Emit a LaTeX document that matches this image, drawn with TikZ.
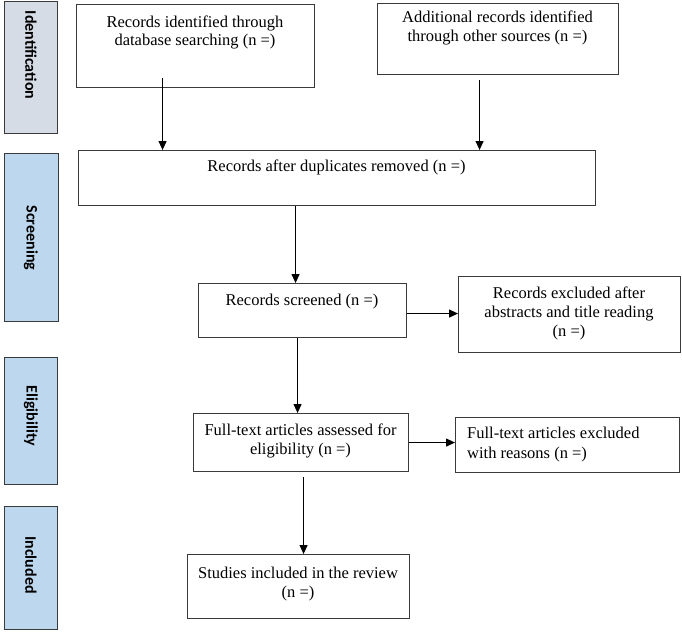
\documentclass[tikz,border=0pt]{standalone}
\usepackage{fontspec}
\setmainfont{Liberation Serif}
\newfontfamily\sidefont{Carlito}
\usetikzlibrary{arrows.meta}
\definecolor{idfill}{HTML}{D6DCE5}
\definecolor{phfill}{HTML}{BDD7EE}
\definecolor{edge}{HTML}{3A3A3A}
\begin{document}
\begin{tikzpicture}[x=1pt,y=-1pt,
  box/.style={draw=edge,line width=1.1pt,inner sep=0pt,anchor=north west},
  phase/.style={draw=edge,line width=1.4pt,inner sep=0pt,anchor=north west},
  phasetext/.style={font=\sidefont\bfseries\fontsize{16}{18}\selectfont,rotate=-90,inner sep=0pt},
  txt/.style={font=\fontsize{16.5}{18.8}\selectfont,align=center,inner sep=0pt,anchor=base},
  ltxt/.style={font=\fontsize{16.5}{19.5}\selectfont,align=left,inner sep=0pt,anchor=base west},
  arr/.style={line width=1.2pt,-{Triangle[length=9pt,width=8pt]}}]
\useasboundingbox (0,0) rectangle (682,634);
% phase bars
\node[phase,fill=idfill,minimum width=53pt,minimum height=132pt] (p1) at (4,1) {};
\node[phase,fill=phfill,minimum width=54pt,minimum height=168pt] (p2) at (4,153) {};
\node[phase,fill=phfill,minimum width=53pt,minimum height=127pt] (p3) at (4,357) {};
\node[phase,fill=phfill,minimum width=53pt,minimum height=123pt] (p4) at (4,506) {};
\node[phasetext] (p1t) at (31,55) {Identification};
\node[phasetext] (p2t) at (31,238) {Screening};
\node[phasetext] (p3t) at (31,416) {Eligibility};
\node[phasetext] (p4t) at (31,565) {Included};
% boxes
\node[box,minimum width=238pt,minimum height=83pt] (b1) at (76,4) {};
\node[box,minimum width=241pt,minimum height=71pt] (b2) at (377,3) {};
\node[box,minimum width=517pt,minimum height=55pt] (b3) at (78,150) {};
\node[box,minimum width=208pt,minimum height=54pt] (b4) at (198,283) {};
\node[box,minimum width=222pt,minimum height=76pt] (b5) at (458,276) {};
\node[box,minimum width=215pt,minimum height=58pt] (b6) at (193,413) {};
\node[box,minimum width=224pt,minimum height=55pt] (b7) at (455,417) {};
\node[box,minimum width=222pt,minimum height=64pt] (b8) at (187,554) {};
% texts (anchored at the baseline of the last line)
\node[txt] (t1) at (195,46) {Records identified through\\database searching (n =)};
\node[txt] (t2) at (497.5,41.5) {Additional records identified\\through other sources (n =)};
\node[txt] (t3) at (336.5,171) {Records after duplicates removed (n =)};
\node[txt] (t4) at (302,305) {Records screened (n =)};
\node[txt] (t5) at (569,336) {Records excluded after\\abstracts and title reading\\(n =)};
\node[txt] (t6) at (300.5,454) {Full-text articles assessed for\\eligibility (n =)};
\node[ltxt] (t7) at (467,458) {Full-text articles excluded\\with reasons (n =)};
\node[txt] (t8) at (298,597) {Studies included in the review\\(n =)};
% connectors
\coordinate (a1) at ([xshift=-33pt,yshift=10pt]b1.south);
\draw[arr] (a1) -- (a1 |- b3.north);
\coordinate (a2) at ([xshift=-18.5pt,yshift=-5pt]b2.south);
\draw[arr] (a2) -- (a2 |- b3.north);
\coordinate (a3) at ([xshift=-41.5pt]b3.south);
\draw[arr] (a3) -- (a3 |- b4.north);
\coordinate (a4) at ([yshift=-3pt]b4.east);
\draw[arr] (a4) -- (a4 -| b5.west);
\coordinate (a5) at ([xshift=-5pt]b4.south);
\draw[arr] (a5) -- (a5 |- b6.north);
\coordinate (a6) at (b6.east);
\draw[arr] (a6) -- (a6 -| b7.west);
\coordinate (a7) at ([xshift=2.5pt,yshift=-5pt]b6.south);
\draw[arr] (a7) -- (a7 |- b8.north);
\end{tikzpicture}
\end{document}
